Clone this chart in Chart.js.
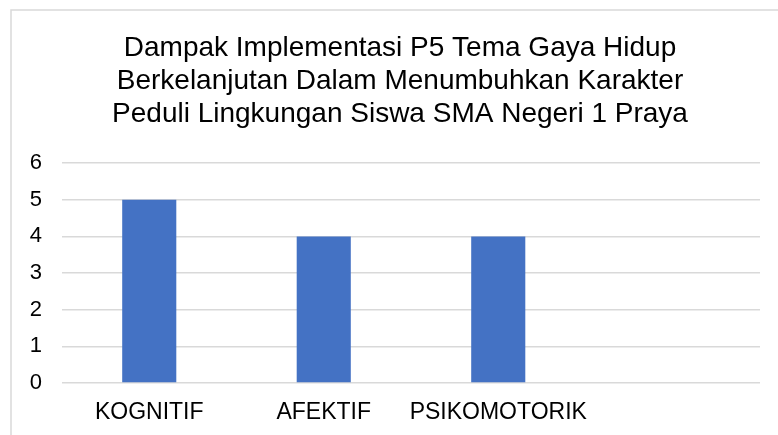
<!DOCTYPE html>
<html>
<head>
<meta charset="utf-8">
<script src="https://cdn.jsdelivr.net/npm/chart.js@4"></script>
<style>
  html, body { margin: 0; padding: 0; background: #fff; }
  #wrap { position: relative; width: 778px; height: 435px; }
</style>
</head>
<body>
<div id="wrap"><canvas id="chart"></canvas></div>
<script>
// Chart data
const titleLines = [
  'Dampak Implementasi P5 Tema Gaya Hidup',
  'Berkelanjutan Dalam Menumbuhkan Karakter',
  'Peduli Lingkungan Siswa SMA Negeri 1 Praya',
];
const categories = ['KOGNITIF', 'AFEKTIF', 'PSIKOMOTORIK', ''];
const values = [5, 4, 4, null];
const yMin = 0;
const yMax = 6;
const yStep = 1;

const FONT = "'Liberation Sans', Arial, sans-serif";

// light gray frame around the chart object (runs off the right and bottom edges)
const framePlugin = {
  id: 'frame',
  beforeDraw(chart) {
    const ctx = chart.ctx;
    ctx.save();
    ctx.strokeStyle = '#d9d9d9';
    ctx.lineWidth = 1.5;
    ctx.strokeRect(11, 10, chart.width + 20, chart.height + 20);
    ctx.restore();
  },
};

new Chart(document.getElementById('chart'), {
  type: 'bar',
  data: {
    labels: categories,
    datasets: [
      {
        data: values,
        backgroundColor: '#4472c4',
        borderWidth: 0,
        barPercentage: 0.31,
        categoryPercentage: 1.0,
      },
    ],
  },
  options: {
    responsive: true,
    maintainAspectRatio: false,
    animation: false,
    layout: {
      padding: { left: 22, right: 0, top: 0, bottom: 0 },
    },
    plugins: {
      legend: { display: false },
      tooltip: { enabled: false },
      title: {
        display: true,
        text: titleLines,
        color: '#000',
        font: { family: FONT, size: 28, weight: 'normal', lineHeight: 1.18 },
        padding: { top: 32, bottom: 32 },
      },
    },
    scales: {
      x: {
        grid: { display: false },
        border: { display: false },
        ticks: {
          color: '#000',
          font: { family: FONT, size: 23 },
          padding: 8,
          maxRotation: 0,
          autoSkip: false,
        },
        afterFit(scale) {
          scale.height = 52;
        },
      },
      y: {
        min: yMin,
        max: yMax,
        grid: { color: '#d9d9d9', lineWidth: 1.5, drawTicks: false },
        border: { display: false },
        ticks: {
          stepSize: yStep,
          color: '#000',
          font: { family: FONT, size: 22 },
          padding: 20,
        },
        afterFit(scale) {
          scale.width = 40;
        },
      },
      // empty right-hand spacer so the plot stops short of the edge
      yRight: {
        position: 'right',
        grid: { display: false },
        border: { display: false },
        ticks: { display: false },
        afterFit(scale) {
          scale.width = 18;
        },
      },
    },
  },
  plugins: [framePlugin],
});
</script>
</body>
</html>
